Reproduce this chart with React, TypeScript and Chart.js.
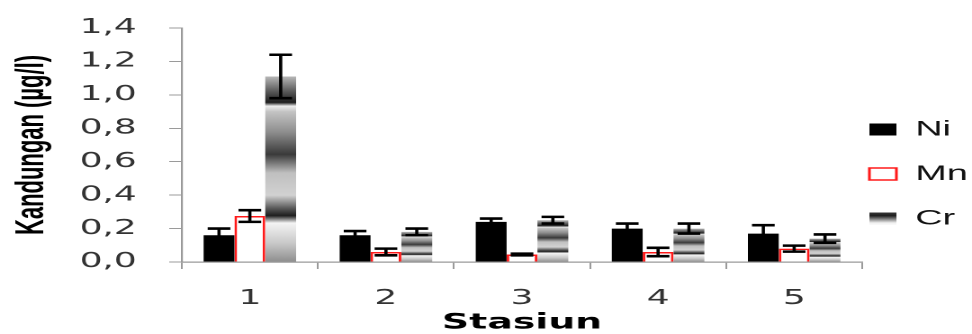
import React, { useEffect, useRef } from 'react';
import { Chart, registerables } from 'chart.js';

Chart.register(...registerables);

// ---- data ----
const categories = ['1', '2', '3', '4', '5'];
const seriesNames = ['Ni', 'Mn', 'Cr'];
const niValues = [0.16, 0.16, 0.24, 0.2, 0.17];
const niErrors = [0.04, 0.025, 0.02, 0.03, 0.05];
const mnValues = [0.275, 0.06, 0.045, 0.06, 0.08];
const mnErrors = [0.035, 0.02, 0.005, 0.025, 0.018];
const crValues = [1.11, 0.18, 0.25, 0.2, 0.14];
const crErrors = [0.13, 0.02, 0.02, 0.03, 0.025];
const yTickValues = [0, 0.2, 0.4, 0.6, 0.8, 1.0, 1.2, 1.4];
const xTitle = 'Stasiun';
const yTitle = 'Kandungan (µg/l)';

// ---- geometry of the (horizontally stretched) drawing ----
const SX = 1.8;
const W = 540;
const H = 334;

function stripePattern(c: CanvasRenderingContext2D): CanvasPattern | string {
  const off = document.createElement('canvas');
  off.width = 4;
  off.height = 6;
  const o = off.getContext('2d');
  if (!o) return '#999';
  o.fillStyle = '#4a4a4a';
  o.fillRect(0, 0, 4, 2);
  o.fillStyle = '#8c8c8c';
  o.fillRect(0, 2, 4, 1);
  o.fillStyle = '#e2e2e2';
  o.fillRect(0, 3, 4, 3);
  const p = c.createPattern(off, 'repeat');
  if (p && (p as any).setTransform) {
    (p as any).setTransform(new DOMMatrix([0.5, 0, 0, 0.5, 0, 0]));
  }
  return p || '#999';
}

const crStops: [number, string][] = [
  [0.0, '#b8b8b8'],
  [0.08, '#5a5a5a'],
  [0.14, '#1e1e1e'],
  [0.16, '#eeeeee'],
  [0.19, '#c4c4c4'],
  [0.3, '#8e8e8e'],
  [0.42, '#3a3a3a'],
  [0.52, '#c0c0c0'],
  [0.64, '#d2d2d2'],
  [0.71, '#5a5a5a'],
  [0.75, '#1e1e1e'],
  [0.79, '#f4f4f4'],
  [0.9, '#c8c8c8'],
  [1.0, '#8e8e8e'],
];

function crFill(ctx: any) {
  const chart = ctx.chart;
  if (ctx.type !== 'data' || !chart.chartArea || !chart.scales || !chart.scales.y) {
    return stripePattern(chart.ctx);
  }
  const ys = chart.scales.y;
  const top = ys.getPixelForValue(ctx.raw);
  const bottom = ys.getPixelForValue(0);
  if (!isFinite(top) || !isFinite(bottom) || bottom - top < 1) return '#999';
  const g = chart.ctx.createLinearGradient(0, top, 0, bottom);
  crStops.forEach(([o, c]) => g.addColorStop(o, c));
  return g;
}

const errorSets = [niErrors, mnErrors, crErrors];

const errorBarPlugin = {
  id: 'errorBars',
  afterDatasetsDraw(chart: any) {
    const c = chart.ctx as CanvasRenderingContext2D;
    const ys = chart.scales.y;
    errorSets.forEach((errs, di) => {
      const meta = chart.getDatasetMeta(di);
      const vals = chart.data.datasets[di].data as number[];
      meta.data.forEach((bar: any, j: number) => {
        const v = vals[j];
        const e = errs[j];
        const x = bar.x;
        const yt = ys.getPixelForValue(v + e);
        const yb = ys.getPixelForValue(v - e);
        c.save();
        c.strokeStyle = '#000';
        c.lineCap = 'butt';
        c.lineWidth = 1.8;
        c.beginPath();
        c.moveTo(x, yt);
        c.lineTo(x, yb);
        c.stroke();
        c.lineWidth = 2.6;
        c.beginPath();
        c.moveTo(x - 6.3, yt);
        c.lineTo(x + 6.3, yt);
        c.moveTo(x - 6.3, yb);
        c.lineTo(x + 6.3, yb);
        c.stroke();
        c.restore();
      });
    });
  },
};

// keep the legend narrow (so the plot reaches x≈479) and place its column like the reference
const LEGEND_W = 61;
const legendPlacePlugin = {
  id: 'legendPlace',
  beforeLayout(chart: any) {
    const l = chart.legend;
    if (l && !l.__patched) {
      const orig = l.fit.bind(l);
      l.fit = function () {
        orig();
        this.width = LEGEND_W;
      };
      l.__patched = true;
    }
  },
  afterLayout(chart: any) {
    const l = chart.legend;
    if (!l) return;
    l.left -= 19.5;
    l.width = l.right - l.left;
    l.top -= 5.5;
    l.bottom -= 5.5;
  },
};

const fmt = (v: number) => Number(v).toFixed(1).replace('.', ',');

export default function App() {
  const ref = useRef<HTMLCanvasElement>(null);

  useEffect(() => {
    if (!ref.current) return;
    const chart = new Chart(ref.current, {
      type: 'bar',
      data: {
        labels: categories,
        datasets: [
          {
            label: seriesNames[0],
            data: niValues,
            backgroundColor: '#000000',
            borderWidth: 0,
          },
          {
            label: seriesNames[1],
            data: mnValues,
            backgroundColor: '#ffffff',
            borderColor: '#ff1a1a',
            borderWidth: 1.5,
          },
          {
            label: seriesNames[2],
            data: crValues,
            backgroundColor: crFill as any,
            borderWidth: 0,
          },
        ],
      },
      options: {
        responsive: false,
        animation: false,
        devicePixelRatio: 2,
        datasets: { bar: { categoryPercentage: 0.68, barPercentage: 1.0 } },
        layout: { padding: { top: 25, left: 0, right: 0, bottom: 0 } },
        events: [],
        plugins: {
          tooltip: { enabled: false },
          legend: {
            position: 'right',
            align: 'center',
            labels: {
              boxWidth: 15,
              boxHeight: 12,
              padding: 23.5,
              color: '#111',
              font: { family: "'Liberation Sans', Arial, sans-serif", size: 21 },
            },
          },
        },
        scales: {
          x: {
            type: 'category',
            offset: true,
            grid: {
              display: true,
              offset: true,
              drawOnChartArea: false,
              drawTicks: true,
              tickLength: 7,
              color: '#9a9a9a',
              lineWidth: 1,
            },
            border: { display: true, color: '#9a9a9a', width: 1.2 },
            ticks: {
              padding: 20,
              color: '#333',
              font: { family: "'DejaVu Sans', sans-serif", size: 20, lineHeight: 1 },
            },
            title: {
              display: true,
              text: xTitle,
              color: '#000',
              font: { family: "'DejaVu Sans', sans-serif", size: 21, weight: 'bold', lineHeight: 1 },
              padding: { top: 0, bottom: 0.5 },
            },
            afterFit: (s: any) => {
              s.height = 72;
            },
          },
          y: {
            min: 0,
            max: 1.4,
            afterBuildTicks: (s: any) => {
              s.ticks = yTickValues.map((v) => ({ value: v }));
            },
            grid: {
              display: true,
              drawOnChartArea: false,
              drawTicks: true,
              tickLength: 7,
              color: '#9a9a9a',
              lineWidth: 1,
            },
            border: { display: true, color: '#9a9a9a', width: 1.1 },
            ticks: {
              padding: 18,
              color: '#333',
              font: { family: "'DejaVu Sans', sans-serif", size: 20, lineHeight: 1 },
              callback: (v: any) => fmt(v),
            },
            title: {
              display: true,
              text: yTitle,
              color: '#000',
              font: { family: "'Liberation Sans', Arial, sans-serif", size: 22, weight: 'bold', lineHeight: 1 },
              padding: { top: 7, bottom: 0 },
            },
            afterFit: (s: any) => {
              s.width = 101;
            },
          },
        },
      } as any,
      plugins: [errorBarPlugin, legendPlacePlugin],
    });
    return () => chart.destroy();
  }, []);

  return (
    <div
      style={{
        position: 'absolute',
        left: 0,
        top: 0,
        width: W,
        height: H,
        transform: `scaleX(${SX})`,
        transformOrigin: '0 0',
      }}
    >
      <canvas ref={ref} width={W} height={H} />
    </div>
  );
}
